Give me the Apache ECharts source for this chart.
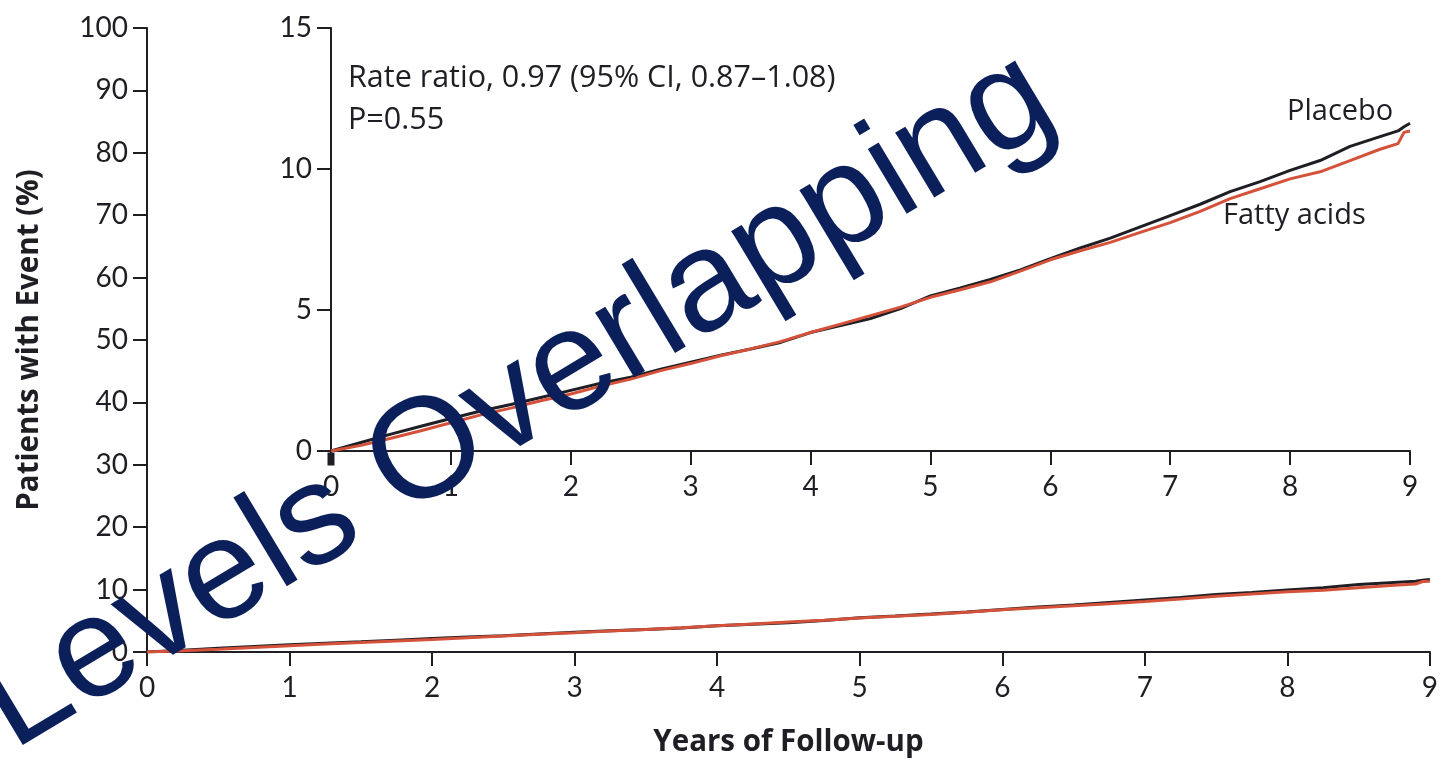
<!DOCTYPE html>
<html>
<head>
<meta charset="utf-8">
<script src="https://cdn.jsdelivr.net/npm/echarts@6/dist/echarts.min.js"></script>
<style>
  html, body { margin: 0; padding: 0; background: #ffffff; }
  #chart { width: 1441px; height: 764px; }
</style>
</head>
<body>
<div id="chart"></div>
<script>
// Cumulative incidence (%) by years of follow-up
const years      = [0, 0.25, 0.5, 0.75, 1, 1.25, 1.5, 1.75, 2, 2.25, 2.5, 2.75, 3, 3.25, 3.5, 3.75, 4, 4.25, 4.5, 4.75, 5, 5.25, 5.5, 5.75, 6, 6.25, 6.5, 6.75, 7, 7.25, 7.5, 7.75, 8, 8.25, 8.5, 8.75, 8.9, 8.95, 9];
const placebo    = [0, 0.3, 0.6, 0.88, 1.15, 1.42, 1.65, 1.9, 2.15, 2.4, 2.62, 2.9, 3.15, 3.4, 3.62, 3.85, 4.2, 4.45, 4.7, 5.05, 5.5, 5.78, 6.08, 6.42, 6.82, 7.2, 7.55, 7.95, 8.35, 8.75, 9.2, 9.55, 9.95, 10.3, 10.8, 11.15, 11.35, 11.5, 11.62];
const fattyAcids = [0, 0.2, 0.45, 0.72, 1.0, 1.28, 1.52, 1.78, 2.02, 2.3, 2.55, 2.85, 3.1, 3.38, 3.62, 3.88, 4.2, 4.5, 4.8, 5.1, 5.45, 5.72, 6.0, 6.38, 6.78, 7.1, 7.4, 7.75, 8.1, 8.5, 8.95, 9.3, 9.65, 9.9, 10.3, 10.7, 10.9, 11.3, 11.35];

const xTicks = [0, 1, 2, 3, 4, 5, 6, 7, 8, 9];
const mainYMax = 100, mainYStep = 10;
const insetYMax = 15, insetYStep = 5;

const seriesNames = ['Placebo', 'Fatty acids'];
const statText = ['Rate ratio, 0.97 (95% CI, 0.87\u20131.08)', 'P=0.55'];
const stamp = 'Levels Overlapping';

const pairs = arr => years.map((t, i) => [t, arr[i]]);

const INK = '#1e1e24';
const RED = '#d4513a';
const TICK_FONT = 'Lato, "Open Sans", sans-serif';
const TEXT_FONT = '"Open Sans", Lato, sans-serif';

function xAxisCfg(gridIndex, withName) {
  return {
    type: 'value', gridIndex, min: xTicks[0], max: xTicks[xTicks.length - 1], interval: 1,
    name: withName ? 'Years of Follow-up' : '',
    nameLocation: 'middle', nameGap: 76,
    nameTextStyle: { fontFamily: TEXT_FONT, fontWeight: 'bold', fontSize: 29.5, color: INK },
    axisLine: { show: true, onZero: false, lineStyle: { color: INK, width: 2 } },
    axisTick: { show: true, inside: false, length: 14, lineStyle: { color: INK, width: 2 } },
    axisLabel: { margin: 22, fontFamily: TICK_FONT, fontSize: 28, color: INK },
    splitLine: { show: false }
  };
}
function yAxisCfg(gridIndex, max, step, withName) {
  return {
    type: 'value', gridIndex, min: 0, max, interval: step,
    name: withName ? 'Patients with Event (%)' : '',
    nameLocation: 'middle', nameGap: 102, nameRotate: 90,
    nameTextStyle: { fontFamily: TEXT_FONT, fontWeight: 'bold', fontSize: 29.5, color: INK },
    axisLine: { show: true, onZero: false, lineStyle: { color: INK, width: 2 } },
    axisTick: { show: true, inside: false, length: 14, lineStyle: { color: INK, width: 2 } },
    axisLabel: { margin: 19, fontFamily: TICK_FONT, fontSize: 28, color: INK },
    splitLine: { show: false }
  };
}
function line(name, data, color, xi, yi, z, extra) {
  return Object.assign({
    name, type: 'line', xAxisIndex: xi, yAxisIndex: yi, data, showSymbol: false, symbol: 'none',
    smooth: false, z, lineStyle: { color, width: 3 }, itemStyle: { color }, animation: false
  }, extra || {});
}
function label(text, x, y, size) {
  return { type: 'text', x, y, style: { text, font: size + 'px ' + TEXT_FONT, fill: INK,
    align: 'left', verticalAlign: 'middle', textAlign: 'left', textVerticalAlign: 'middle' } };
}

// heavier origin tick on the magnified panel
const originMark = {
  markPoint: {
    silent: true, animation: false,
    symbol: 'rect', symbolSize: [7, 13], symbolOffset: [0, 8],
    itemStyle: { color: INK }, label: { show: false },
    data: [{ coord: [0, 0] }]
  }
};

const chart = echarts.init(document.getElementById('chart'), null, { renderer: 'canvas' });
chart.setOption({
  backgroundColor: '#ffffff',
  animation: false,
  grid: [
    { left: 147, top: 28, right: 11, bottom: 112 },
    { left: 331, top: 28, right: 31, bottom: 313 }
  ],
  xAxis: [xAxisCfg(0, true), xAxisCfg(1, false)],
  yAxis: [yAxisCfg(0, mainYMax, mainYStep, true), yAxisCfg(1, insetYMax, insetYStep, false)],
  series: [
    line(seriesNames[0], pairs(placebo), INK, 0, 0, 2),
    line(seriesNames[1], pairs(fattyAcids), RED, 0, 0, 3),
    line(seriesNames[0], pairs(placebo), INK, 1, 1, 2, originMark),
    line(seriesNames[1], pairs(fattyAcids), RED, 1, 1, 3)
  ],
  graphic: [
    label(statText[0], 348, 78, 30.5),
    label(statText[1], 348, 120, 30.5),
    label(seriesNames[0], 1287, 112, 29),
    label(seriesNames[1], 1223, 216, 29),
    { type: 'text', x: 517, y: 402, rotation: 31 * Math.PI / 180, z: 100,
      style: { text: stamp, font: '143px "Liberation Sans", Arial, sans-serif', fill: '#0b1f5a',
        align: 'center', verticalAlign: 'middle', textAlign: 'center', textVerticalAlign: 'middle' } }
  ]
});
</script>
</body>
</html>
